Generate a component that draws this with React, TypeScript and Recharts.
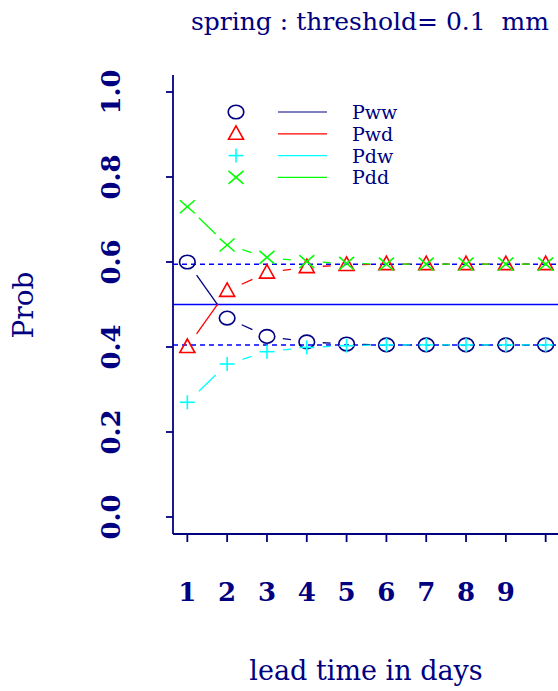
import React from 'react';
import { ComposedChart, Scatter, XAxis, YAxis, ReferenceLine, Legend, Label } from 'recharts';

const NAVY = '#000080';
const BLUE = '#0000FF';
const SERIF = '"DejaVu Serif", serif';

// lead time (days) and the tick text under them
const days = [1, 2, 3, 4, 5, 6, 7, 8, 9, 10];
const dayLabels = ['1', '2', '3', '4', '5', '6', '7', '8', '9', ''];

// transition probabilities
const pww = [0.600, 0.468, 0.425, 0.412, 0.407, 0.405, 0.405, 0.405, 0.405, 0.405];
const pwd = [0.400, 0.532, 0.575, 0.588, 0.593, 0.595, 0.595, 0.595, 0.595, 0.595];
const pdw = [0.270, 0.360, 0.389, 0.399, 0.403, 0.405, 0.405, 0.405, 0.405, 0.405];
const pdd = [0.730, 0.640, 0.611, 0.601, 0.597, 0.595, 0.595, 0.595, 0.595, 0.595];

const probTicks = [0, 0.2, 0.4, 0.6, 0.8, 1.0];
const probTickLabels = ['0.0', '0.2', '0.4', '0.6', '0.8', '1.0'];

// stationary levels (dotted) and the 0.5 line (solid)
const steadyLevels = [0.595, 0.405];
const midLevel = 0.5;

const seriesNames = ['Pww', 'Pwd', 'Pdw', 'Pdd'];
const seriesColors = [NAVY, '#FF0000', '#00FFFF', '#00FF00'];
const seriesMarkers = ['circle', 'triangle', 'plus', 'cross'];
const seriesValues = [pww, pwd, pdw, pdd];

const GAP = 16;

const Marker = ({ kind, cx, cy, color }: { kind: string; cx: number; cy: number; color: string }) => {
  const common = { stroke: color, strokeWidth: 1.6, fill: 'none' };
  if (kind === 'circle') return <ellipse cx={cx} cy={cy} rx={7.8} ry={6.8} {...common} />;
  if (kind === 'triangle')
    return <polygon points={`${cx},${cy - 8} ${cx - 7.5},${cy + 5.5} ${cx + 7.5},${cy + 5.5}`} {...common} />;
  if (kind === 'plus')
    return (
      <g {...common}>
        <line x1={cx - 7.5} y1={cy} x2={cx + 7.5} y2={cy} />
        <line x1={cx} y1={cy - 7} x2={cx} y2={cy + 7} />
      </g>
    );
  return (
    <g {...common}>
      <line x1={cx - 7.5} y1={cy - 6.5} x2={cx + 7.5} y2={cy + 6.5} />
      <line x1={cx - 7.5} y1={cy + 6.5} x2={cx + 7.5} y2={cy - 6.5} />
    </g>
  );
};

// R type="b": segments between points with a gap around each point
const gappedLine = (color: string) => (props: any) => {
  const pts = props.points || [];
  const segs = [];
  for (let i = 0; i < pts.length - 1; i++) {
    const a = pts[i];
    const b = pts[i + 1];
    const dx = b.x - a.x;
    const dy = b.y - a.y;
    const len = Math.hypot(dx, dy);
    if (len <= 2 * GAP) continue;
    const ux = dx / len;
    const uy = dy / len;
    segs.push(
      <line
        key={i}
        x1={a.x + ux * GAP}
        y1={a.y + uy * GAP}
        x2={b.x - ux * GAP}
        y2={b.y - uy * GAP}
        stroke={color}
        strokeWidth={1.3}
      />
    );
  }
  return <g>{segs}</g>;
};

const XTick = (props: any) => {
  const { x, y, payload } = props;
  const idx = days.indexOf(payload.value);
  return (
    <text x={x} y={y + 57} textAnchor="middle" fill={NAVY} fontFamily={SERIF} fontWeight="bold" fontSize={26}>
      {dayLabels[idx]}
    </text>
  );
};

const YTick = (props: any) => {
  const { x, y, payload } = props;
  const idx = probTicks.indexOf(payload.value);
  return (
    <text
      transform={`translate(${x - 44},${y}) rotate(-90)`}
      textAnchor="middle"
      fill={NAVY}
      fontFamily={SERIF}
      fontWeight="bold"
      fontSize={26}
    >
      {probTickLabels[idx]}
    </text>
  );
};

const LegendBox = () => (
  <svg width={200} height={95}>
    {seriesNames.map((name, i) => {
      const y = 14 + i * 21.8;
      return (
        <g key={name}>
          <Marker kind={seriesMarkers[i]} cx={16} cy={y} color={seriesColors[i]} />
          <line x1={58} y1={y} x2={107} y2={y} stroke={seriesColors[i]} strokeWidth={1.2} />
          <text x={132} y={y + 7} fill={NAVY} fontFamily={SERIF} fontSize={19}>
            {name}
          </text>
        </g>
      );
    })}
  </svg>
);

const Titles = () => (
  <g>
    <text x={370} y={30} textAnchor="middle" fill={NAVY} fontFamily={SERIF} fontSize={25} style={{ whiteSpace: 'pre' }}>
      {'spring : threshold= 0.1  mm'}
    </text>
    <text transform="translate(33,305) rotate(-90)" textAnchor="middle" fill={NAVY} fontFamily={SERIF} fontSize={28}>
      Prob
    </text>
  </g>
);

const App: React.FC = () => {
  return (
    <div style={{ position: 'absolute', left: 0, top: 0, width: 558, height: 691, overflow: 'hidden', background: '#fff' }}>
      <ComposedChart width={565} height={691} margin={{ top: 75, right: 5, bottom: 0, left: 0 }}>
        <XAxis
          xAxisId="top"
          orientation="top"
          type="number"
          dataKey="day"
          domain={[0.64, 10.36]}
          allowDataOverflow
          tick={false}
          tickLine={false}
          axisLine={{ stroke: NAVY, strokeWidth: 1.8 }}
          height={0}
        />
        <XAxis
          type="number"
          dataKey="day"
          domain={[0.64, 10.36]}
          allowDataOverflow
          ticks={days}
          interval={0}
          tick={<XTick />}
          tickSize={8}
          tickLine={{ stroke: NAVY, strokeWidth: 1.8 }}
          axisLine={{ stroke: NAVY, strokeWidth: 1.8 }}
          height={157}
        >
          <Label
            content={() => (
              <text x={366} y={680} textAnchor="middle" fill={NAVY} fontFamily={SERIF} fontSize={27}>
                lead time in days
              </text>
            )}
          />
        </XAxis>
        <YAxis
          type="number"
          dataKey="prob"
          domain={[-0.04, 1.04]}
          allowDataOverflow
          ticks={probTicks}
          interval={0}
          tick={<YTick />}
          tickSize={7}
          tickLine={{ stroke: NAVY, strokeWidth: 1.8 }}
          axisLine={{ stroke: NAVY, strokeWidth: 1.8 }}
          width={173}
        >
          <Label content={() => <Titles />} />
        </YAxis>
        {steadyLevels.map((v) => (
          <ReferenceLine key={v} y={v} stroke={BLUE} strokeWidth={1.5} strokeDasharray="5 4" />
        ))}
        <ReferenceLine y={midLevel} stroke={BLUE} strokeWidth={1.5} />
        {seriesValues.map((vals, i) => (
          <Scatter
            key={seriesNames[i]}
            name={seriesNames[i]}
            data={days.map((d, j) => ({ day: d, prob: vals[j] }))}
            fill={seriesColors[i]}
            line={gappedLine(seriesColors[i])}
            shape={(p: any) => <Marker kind={seriesMarkers[i]} cx={p.cx} cy={p.cy} color={seriesColors[i]} />}
            isAnimationActive={false}
          />
        ))}
        <Legend
          layout="vertical"
          align="center"
          verticalAlign="middle"
          wrapperStyle={{ left: 220, top: 98, width: 200, height: 95 }}
          content={() => <LegendBox />}
        />
      </ComposedChart>
    </div>
  );
};

export default App;
